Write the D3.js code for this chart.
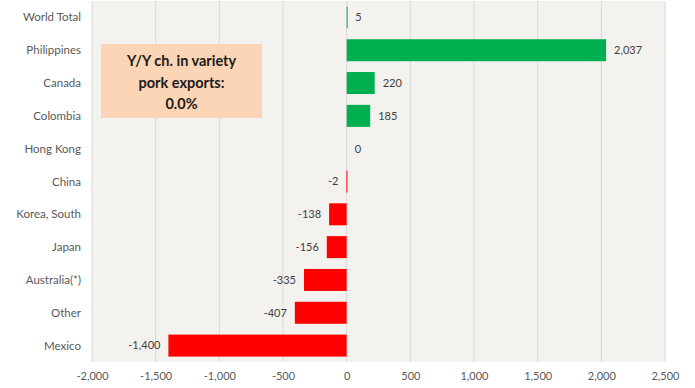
<!DOCTYPE html>
<html>
<head>
<meta charset="utf-8">
<script src="https://cdn.jsdelivr.net/npm/d3@7"></script>
<style>
  body { margin: 0; background: #ffffff; }
  svg { display: block; }
  text { font-family: Lato, "Open Sans", sans-serif; }
</style>
</head>
<body>
<div id="chart"></div>
<script>
// data
const countries = ["World Total", "Philippines", "Canada", "Colombia", "Hong Kong", "China",
                   "Korea, South", "Japan", "Australia(*)", "Other", "Mexico"];
const changes = [5, 2037, 220, 185, 0, -2, -138, -156, -335, -407, -1400];
const xTicks = [-2000, -1500, -1000, -500, 0, 500, 1000, 1500, 2000, 2500];
const noteLines = ["Y/Y ch. in variety", "pork exports:", "0.0%"];

const width = 695, height = 388;
const margin = {top: 1, right: 30, bottom: 26, left: 92};

// plain hyphen for negatives, like the original
const fmt = d3.formatLocale({decimal: ".", thousands: ",", grouping: [3], currency: ["", ""], minus: "-"}).format(",");

const svg = d3.select("#chart").append("svg")
    .attr("width", width).attr("height", height);

const x = d3.scaleLinear().domain([-2000, 2500]).range([margin.left, width - margin.right]);
const y = d3.scaleBand().domain(countries).range([margin.top, height - margin.bottom]).paddingInner(0.33).paddingOuter(0.165);

// plot background
svg.append("rect")
    .attr("x", margin.left).attr("y", margin.top)
    .attr("width", x(2500) - x(-2000)).attr("height", height - margin.bottom - margin.top)
    .attr("fill", "#f3f2ee");

// gridlines
svg.append("g").selectAll("line").data(xTicks).join("line")
    .attr("x1", d => x(d)).attr("x2", d => x(d))
    .attr("y1", margin.top).attr("y2", height - margin.bottom)
    .attr("stroke", "#d9d9d9").attr("stroke-width", 1);

// x axis
const xAxis = d3.axisBottom(x).tickValues(xTicks).tickFormat(fmt).tickSize(0).tickPadding(10);
svg.append("g")
    .attr("transform", `translate(0,${height - margin.bottom})`)
    .call(xAxis)
    .call(g => g.select(".domain").remove())
    .selectAll("text").attr("font-size", 11).attr("fill", "#595959")
    .style("font-family", "Lato, 'Open Sans', sans-serif");

// category labels
svg.append("g").selectAll("text").data(countries).join("text")
    .attr("x", margin.left - 11)
    .attr("y", d => y(d) + y.bandwidth() / 2)
    .attr("dy", "0.35em")
    .attr("text-anchor", "end")
    .attr("font-size", 11.5).attr("fill", "#595959")
    .text(d => d);

// bars
const rows = countries.map((c, i) => ({country: c, value: changes[i]}));
svg.append("g").selectAll("rect").data(rows.filter(d => d.value !== 0)).join("rect")
    .attr("x", d => Math.min(x(0), x(d.value)))
    .attr("y", d => y(d.country))
    .attr("width", d => Math.max(1, Math.abs(x(d.value) - x(0))))
    .attr("height", y.bandwidth())
    .attr("fill", d => d.value > 0 ? "#00b050" : "#ff0000");

// value labels
svg.append("g").selectAll("text").data(rows).join("text")
    .attr("x", d => d.value >= 0 ? x(d.value) + 8 : x(d.value) - 8)
    .attr("y", d => y(d.country) + y.bandwidth() / 2)
    .attr("dy", "0.35em")
    .attr("text-anchor", d => d.value >= 0 ? "start" : "end")
    .attr("font-size", 11).attr("fill", "#404040")
    .text(d => fmt(d.value));

// note box
const note = svg.append("g");
note.append("rect")
    .attr("x", 101).attr("y", 44).attr("width", 161).attr("height", 74)
    .attr("fill", "#fbd5b5");
note.selectAll("text").data(noteLines).join("text")
    .attr("x", 181.5)
    .attr("y", (d, i) => 61 + i * 21.5)
    .attr("dy", "0.35em")
    .attr("text-anchor", "middle")
    .attr("font-size", 14.5).attr("font-weight", "bold").attr("fill", "#1a1a1a")
    .text(d => d);
</script>
</body>
</html>
